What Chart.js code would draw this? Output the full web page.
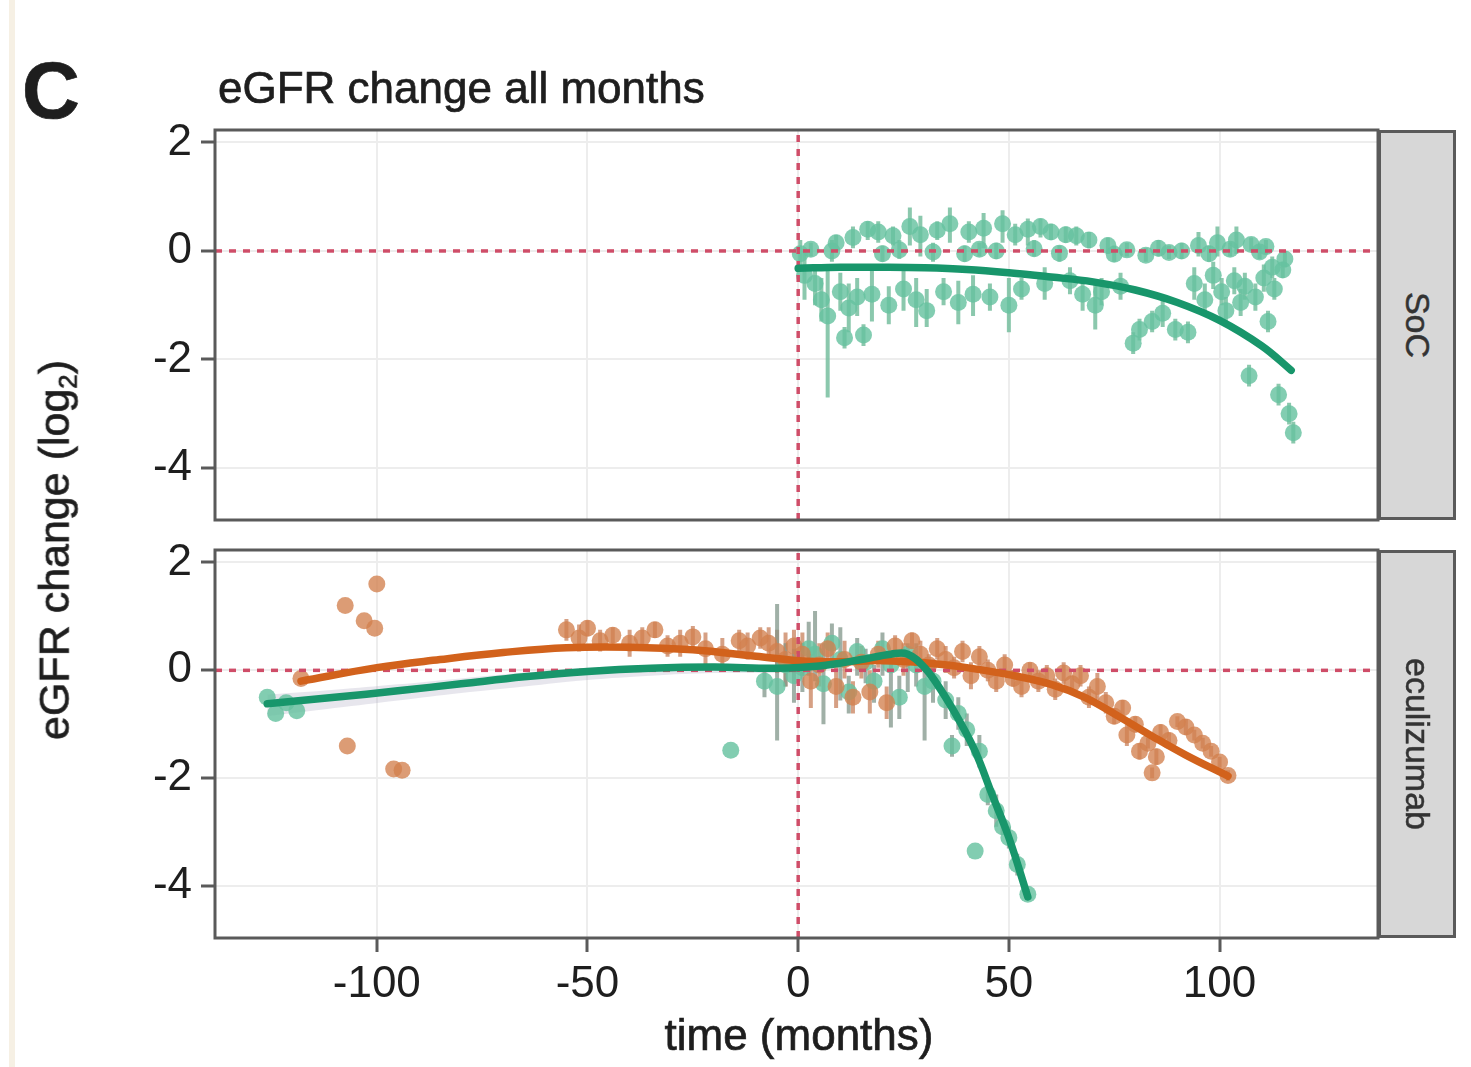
<!DOCTYPE html>
<html><head><meta charset="utf-8">
<script src="https://cdn.jsdelivr.net/npm/chart.js@4.4.0/dist/chart.umd.min.js"></script>
<style>
html,body{margin:0;padding:0;background:#fff;}
body{width:1471px;height:1067px;position:relative;overflow:hidden;font-family:"Liberation Sans",Arial,sans-serif;color:#1e1e1e;}
canvas{position:absolute;left:0;}
.t{position:absolute;white-space:nowrap;line-height:1;-webkit-text-stroke:0.7px #1e1e1e;}
.strip{position:absolute;background:#d7d7d7;border:3px solid #5a5a5a;box-sizing:border-box;}
.edge{position:absolute;background:#f6f0e4;}
</style></head><body>
<div class="edge" style="left:9px;top:0;width:6px;height:1067px;"></div>
<canvas id="top" width="1471" height="560" style="top:0;width:1471px;height:560px;"></canvas>
<canvas id="bottom" width="1471" height="557" style="top:510px;width:1471px;height:557px;"></canvas>
<div class="t" style="left:22px;top:51px;font-size:80px;font-weight:bold;">C</div>
<div class="t" style="left:218px;top:66px;font-size:44px;">eGFR change all months</div>
<div class="t" style="left:57px;top:550px;font-size:43px;transform:translate(-50%,-50%) rotate(-90deg);">eGFR change (log<span style="font-size:0.6em;vertical-align:-0.3em">2</span>)</div>
<div class="t" style="left:799px;top:1013px;font-size:44px;transform:translateX(-50%);">time (months)</div>
<div class="strip" style="left:1378px;top:130px;width:78px;height:390px;"></div>
<div class="strip" style="left:1378px;top:550px;width:78px;height:388px;"></div>
<div class="t" style="left:1418px;top:325px;font-size:34px;color:#333;-webkit-text-stroke:0.5px #333;transform:translate(-50%,-50%) rotate(90deg);">SoC</div>
<div class="t" style="left:1418px;top:744px;font-size:34px;color:#333;-webkit-text-stroke:0.5px #333;transform:translate(-50%,-50%) rotate(90deg);">eculizumab</div>
<script>
// ---------- axis limits & ticks ----------
const X_MIN = -138.4, X_MAX = 137.6;
const Y_MIN = -4.96, Y_MAX = 2.23;
const xTicks = [-100, -50, 0, 50, 100];
const yTicks = [2, 0, -2, -4];

// ---------- SoC panel: points with error bars ----------
const socMonths = [0.5,1.5,3,4,5.5,7,8,9,10,11,
  12,13,14,15.5,16.5,17.5,19,20,21.5,22.5,
  24,25,26.5,28,29,30.5,32,33,34.5,36,
  38,39.5,40.5,41.5,43,44,45.5,47,48.5,50,
  51.5,53,54.5,56,57.5,58.5,60,62,63.5,64.5,
  66,67.5,69,70.5,72,73.5,75,76.5,78,79.5,
  81,82.5,84,85.5,86.5,88,89.5,91,92.5,94,
  95,96.5,97.5,98.5,99.5,100.5,101.5,102.5,103.5,104,
  105,106,107,107.5,108.5,109.5,110.5,111,111.5,112.5,
  113,114,115,115.5,116.5,117.5];
const socValues = [-0.05,-0.45,0.03,-0.6,-0.9,-1.2,0.0,0.15,-0.75,-1.6,
  -1.05,0.25,-0.85,-1.55,0.4,-0.8,0.35,-0.05,-1.0,0.28,
  0.02,-0.7,0.45,-0.9,0.3,-1.1,-0.02,0.38,-0.75,0.5,
  -0.95,-0.05,0.35,-0.8,0.03,0.42,-0.85,0.0,0.5,-1.0,
  0.3,-0.7,0.4,0.04,0.45,-0.6,0.35,-0.04,0.3,-0.55,
  0.28,-0.8,0.2,-1.0,-0.75,0.1,-0.06,-0.65,0.02,-1.7,
  -1.45,-0.08,-1.3,0.05,-1.15,-0.03,-1.45,0.0,-1.5,-0.6,
  0.1,-0.9,-0.05,-0.45,0.15,-0.75,-1.1,0.03,-0.55,0.2,
  -0.95,-0.65,-2.3,0.12,-0.85,-0.02,-0.5,0.08,-1.3,-0.3,
  -0.7,-2.65,-0.35,-0.15,-3.0,-3.35];
const socLow = [-0.3,-0.9,-0.1,-1.0,-1.3,-2.7,-0.2,0.0,-1.1,-1.8,
  -1.5,0.05,-1.2,-1.75,0.2,-1.3,0.15,-0.2,-1.35,0.1,
  -0.15,-1.1,0.1,-1.4,-0.1,-1.4,-0.2,0.2,-1.0,0.15,
  -1.35,-0.2,0.15,-1.2,-0.1,0.05,-1.1,-0.15,0.15,-1.5,
  0.1,-0.9,0.1,-0.1,0.25,-0.9,0.2,-0.2,0.15,-0.8,
  0.1,-1.1,0.05,-1.45,-1.0,-0.05,-0.2,-0.9,-0.1,-1.9,
  -1.65,-0.2,-1.5,-0.1,-1.4,-0.15,-1.65,-0.15,-1.7,-0.9,
  -0.1,-1.2,-0.2,-0.7,-0.1,-1.0,-1.35,-0.1,-0.8,-0.05,
  -1.2,-0.9,-2.5,0.0,-1.1,-0.15,-0.75,-0.05,-1.5,-0.5,
  -0.9,-2.85,-0.5,-0.3,-3.2,-3.55];
const socHigh = [0.2,0.0,0.15,-0.3,-0.5,-0.3,0.2,0.3,-0.4,-1.4,
  -0.6,0.45,-0.5,-1.35,0.55,-0.3,0.55,0.1,-0.65,0.45,
  0.2,-0.3,0.8,-0.5,0.65,-0.7,0.15,0.55,-0.5,0.8,
  -0.55,0.1,0.55,-0.45,0.15,0.7,-0.6,0.15,0.75,-0.5,
  0.5,-0.5,0.6,0.2,0.6,-0.3,0.5,0.1,0.45,-0.3,
  0.45,-0.5,0.35,-0.6,-0.5,0.25,0.1,-0.4,0.15,-1.5,
  -1.25,0.05,-1.1,0.2,-0.9,0.1,-1.25,0.15,-1.3,-0.3,
  0.35,-0.6,0.1,-0.2,0.45,-0.5,-0.85,0.15,-0.3,0.45,
  -0.7,-0.4,-2.1,0.25,-0.6,0.1,-0.25,0.2,-1.1,-0.1,
  -0.5,-2.45,-0.2,0.0,-2.8,-3.15];
// SoC smooth fit
const socFitMonths = [0,10,20,30,40,50,60,70,80,90,100,110,117];
const socFitValues = [-0.32,-0.3,-0.3,-0.31,-0.34,-0.4,-0.48,-0.57,-0.72,-0.95,-1.28,-1.75,-2.2];

// ---------- eculizumab panel: green group ----------
const ecuGreenMonths = [-126,-124,-121.5,-119,-16,-8,-5,-3,-1,1,2.5,4,6,8,10,
  12,14,16,18,20,22,24,26,28,30,32,35,36.5,38,40,42,43,45,47,48.5,50,52,54.5];
const ecuGreenValues = [-0.5,-0.8,-0.6,-0.75,-1.48,-0.2,-0.3,0.1,-0.1,0.05,0.4,0.3,-0.25,0.5,0.2,
  -0.4,0.35,0.15,-0.2,0.4,0.1,-0.5,0.3,0.1,-0.3,-0.2,-0.55,-1.4,-0.8,-1.1,-3.35,-1.5,-2.3,-2.6,-2.9,-3.1,-3.6,-4.15];
const ecuGreenLow = [-0.5,-0.8,-0.6,-0.75,-1.48,-0.5,-1.3,-0.3,-0.6,-0.4,-0.1,-0.2,-1.0,0.1,-0.56,
  -0.8,-0.1,-0.24,-0.6,-0.1,-1.06,-0.9,-0.4,-0.3,-1.3,-0.6,-0.9,-1.6,-1.1,-1.4,-3.35,-1.8,-2.5,-2.9,-3.05,-3.3,-3.8,-4.25];
const ecuGreenHigh = [-0.5,-0.8,-0.6,-0.75,-1.48,0.1,1.23,0.5,0.4,0.5,0.9,1.1,0.5,0.87,0.8,
  -0.1,0.6,0.4,0.1,0.7,0.2,-0.1,0.5,0.5,0.1,0.2,-0.2,-1.2,-0.5,-0.8,-3.35,-1.2,-2.1,-2.3,-2.7,-2.9,-3.4,-4.05];
const ecuGreenFitMonths = [-126,-110,-95,-80,-65,-50,-35,-20,-5,5,15,22,26,30,34,38,42,46,50,54.5];
const ecuGreenFitValues = [-0.62,-0.5,-0.38,-0.25,-0.12,-0.02,0.04,0.06,0.04,0.08,0.2,0.3,0.3,0.05,-0.38,-0.9,-1.5,-2.3,-3.1,-4.2];
const ecuGreenBandMonths = [-126,-110,-95,-80,-65,-50,-35,-20,-5];
const ecuGreenBandUpper = [-0.45,-0.36,-0.26,-0.15,-0.04,0.05,0.1,0.12,0.1];
const ecuGreenBandLower = [-0.85,-0.7,-0.56,-0.42,-0.3,-0.18,-0.1,-0.05,-0.05];

// ---------- eculizumab panel: orange group ----------
const ecuOrangeMonths = [-118,-107.5,-107,-103,-100.5,-100,-96,-94,
  -55,-52,-50,-47,-44,-40,-37,-34,-31,-28,-25,-22,-18,-14,-12,-9,-7,-5,-3,-1,
  1,3,5,7,9,11,13,15,17,19,21,23,25,27,29,31,33,35,37,39,41,43,45,47,49,51,53,55,57,59,61,63,65,67,69,71,73,75,
  77,78,80,81,83,84,85,86,88,90,92,94,96,98,100,102];
const ecuOrangeValues = [-0.15,1.2,-1.4,0.92,0.78,1.6,-1.83,-1.85,
  0.75,0.6,0.78,0.55,0.65,0.5,0.6,0.75,0.45,0.5,0.62,0.4,0.3,0.55,0.45,0.6,0.5,0.35,0.2,0.45,
  0.3,-0.2,0.1,0.4,-0.3,0.2,-0.5,0.15,-0.4,0.3,-0.6,0.45,0.2,0.55,0.3,0.1,0.4,0.2,0.05,0.35,
  -0.1,0.25,0.0,-0.2,0.1,-0.15,-0.3,0.0,-0.2,-0.1,-0.35,-0.05,-0.25,-0.1,-0.5,-0.3,-0.6,-0.85,
  -0.7,-1.2,-1.0,-1.5,-1.35,-1.9,-1.6,-1.15,-1.3,-0.95,-1.05,-1.2,-1.35,-1.5,-1.7,-1.95];
const ecuOrangeErr = [0,0,0,0,0,0,0,0,
  0.2,0.25,0.15,0.2,0.15,0.25,0.2,0.15,0.2,0.25,0.2,0.3,0.3,0.2,0.25,0.2,0.3,0.4,0.5,0.3,
  0.4,0.5,0.4,0.3,0.4,0.35,0.3,0.3,0.4,0.25,0.3,0.2,0.3,0.15,0.25,0.2,0.2,0.25,0.2,0.2,
  0.25,0.2,0.2,0.2,0.2,0.15,0.2,0.15,0.2,0.2,0.2,0.2,0.15,0.2,0.2,0.25,0.2,0.15,
  0.15,0.2,0.15,0.15,0.1,0.1,0.15,0.15,0.15,0.1,0.15,0.1,0.1,0.1,0.1,0.1];
const ecuOrangeFitMonths = [-118,-100,-85,-70,-55,-40,-25,-10,0,10,20,30,40,50,60,68,76,84,92,102];
const ecuOrangeFitValues = [-0.2,0.05,0.2,0.33,0.42,0.43,0.38,0.26,0.18,0.16,0.18,0.14,0.05,-0.08,-0.26,-0.5,-0.85,-1.22,-1.57,-1.96];

// ---------- colours ----------
const C_GREEN_PT = 'rgba(102,194,160,0.82)';
const C_GREEN_BAR = 'rgba(110,186,152,0.8)';
const C_GREEN_BAR2 = 'rgba(128,150,138,0.75)';
const C_ORANGE_PT = 'rgba(210,128,78,0.78)';
const C_ORANGE_BAR = 'rgba(196,120,80,0.7)';
const C_GREEN_LINE = '#18966b';
const C_ORANGE_LINE = '#d2621c';
const C_REF = '#cf4d68';
const FONT = '"Liberation Sans", Arial, sans-serif';

// ---------- builders ----------
function pts(xs, ys, color, order) {
  return { data: xs.map((x, i) => ({ x: x, y: ys[i] })), showLine: false,
    pointRadius: 8.5, pointHoverRadius: 8.5, pointBackgroundColor: color,
    pointBorderWidth: 0, order: order };
}
function bars(xs, lo, hi, color, order) {
  const d = [];
  xs.forEach((x, i) => { if (hi[i] > lo[i]) { d.push({ x: x, y: lo[i] }, { x: x, y: hi[i] }, { x: x, y: null }); } });
  return { data: d, showLine: true, spanGaps: false, pointRadius: 0, borderColor: color, borderWidth: 4, order: order };
}
function smooth(xs, ys, color, order) {
  return { data: xs.map((x, i) => ({ x: x, y: ys[i] })), showLine: true, pointRadius: 0,
    borderColor: color, borderWidth: 7.5, tension: 0.4, borderCapStyle: 'round', borderJoinStyle: 'round', order: order };
}
function refLines(order) {
  return [
    { data: [{ x: X_MIN, y: 0 }, { x: X_MAX, y: 0 }], showLine: true, pointRadius: 0, borderColor: C_REF, borderWidth: 3.5, borderDash: [7, 7], order: order },
    { data: [{ x: 0, y: Y_MIN }, { x: 0, y: Y_MAX }], showLine: true, pointRadius: 0, borderColor: C_REF, borderWidth: 3.5, borderDash: [7, 7], order: order }
  ];
}

const panelBorder = {
  id: 'panelBorder',
  afterDatasetsDraw(chart) {
    const { ctx, chartArea: a } = chart;
    ctx.save(); ctx.strokeStyle = '#5a5a5a'; ctx.lineWidth = 3;
    ctx.strokeRect(a.left, a.top, a.right - a.left, a.bottom - a.top);
    ctx.restore();
  }
};

function makeOptions(showX, padding) {
  return {
    responsive: false, animation: false, devicePixelRatio: 1,
    layout: { padding: padding },
    plugins: { legend: { display: false }, tooltip: { enabled: false } },
    scales: {
      x: {
        type: 'linear', min: X_MIN, max: X_MAX,
        afterBuildTicks: s => { s.ticks = xTicks.map(v => ({ value: v })); },
        afterFit: s => { s.height = showX ? 129 : 0; },
        grid: { color: '#ededed', lineWidth: 2, drawTicks: showX, tickLength: 14, tickColor: '#5a5a5a', tickWidth: 3 },
        border: { display: false },
        ticks: { display: showX, color: '#1e1e1e', padding: 6, font: { family: FONT, size: 44 }, maxRotation: 0 }
      },
      y: {
        type: 'linear', min: Y_MIN, max: Y_MAX,
        afterBuildTicks: s => { s.ticks = yTicks.map(v => ({ value: v })); },
        afterFit: s => { s.width = 215; },
        grid: { color: '#ededed', lineWidth: 2, tickLength: 14, tickColor: '#5a5a5a', tickWidth: 3 },
        border: { display: false },
        ticks: { color: '#1e1e1e', padding: 9, font: { family: FONT, size: 44 } }
      }
    }
  };
}

new Chart(document.getElementById('top'), {
  type: 'scatter',
  data: { datasets: [
    bars(socMonths, socLow, socHigh, C_GREEN_BAR, 4),
    pts(socMonths, socValues, C_GREEN_PT, 3),
    ...refLines(2),
    smooth(socFitMonths, socFitValues, C_GREEN_LINE, 1)
  ] },
  options: makeOptions(false, { left: 0, right: 93, top: 130, bottom: 40 }),
  plugins: [panelBorder]
});

const ecuOrangeLow = ecuOrangeValues.map((v, i) => v - ecuOrangeErr[i]);
const ecuOrangeHigh = ecuOrangeValues.map((v, i) => v + ecuOrangeErr[i]);

new Chart(document.getElementById('bottom'), {
  type: 'scatter',
  data: { datasets: [
    { data: ecuGreenBandMonths.map((x, i) => ({ x: x, y: ecuGreenBandUpper[i] })), showLine: true, pointRadius: 0, borderWidth: 0, borderColor: 'rgba(0,0,0,0)', fill: false, tension: 0.4, order: 9 },
    { data: ecuGreenBandMonths.map((x, i) => ({ x: x, y: ecuGreenBandLower[i] })), showLine: true, pointRadius: 0, borderWidth: 0, borderColor: 'rgba(0,0,0,0)', fill: '-1', backgroundColor: 'rgba(175,172,195,0.3)', tension: 0.4, order: 8 },
    bars(ecuOrangeMonths, ecuOrangeLow, ecuOrangeHigh, C_ORANGE_BAR, 7),
    bars(ecuGreenMonths, ecuGreenLow, ecuGreenHigh, C_GREEN_BAR2, 6),
    pts(ecuGreenMonths, ecuGreenValues, C_GREEN_PT, 5),
    pts(ecuOrangeMonths, ecuOrangeValues, C_ORANGE_PT, 4),
    ...refLines(3),
    smooth(ecuOrangeFitMonths, ecuOrangeFitValues, C_ORANGE_LINE, 2),
    smooth(ecuGreenFitMonths, ecuGreenFitValues, C_GREEN_LINE, 1)
  ] },
  options: makeOptions(true, { left: 0, right: 93, top: 40, bottom: 0 }),
  plugins: [panelBorder]
});
</script>
</body></html>
